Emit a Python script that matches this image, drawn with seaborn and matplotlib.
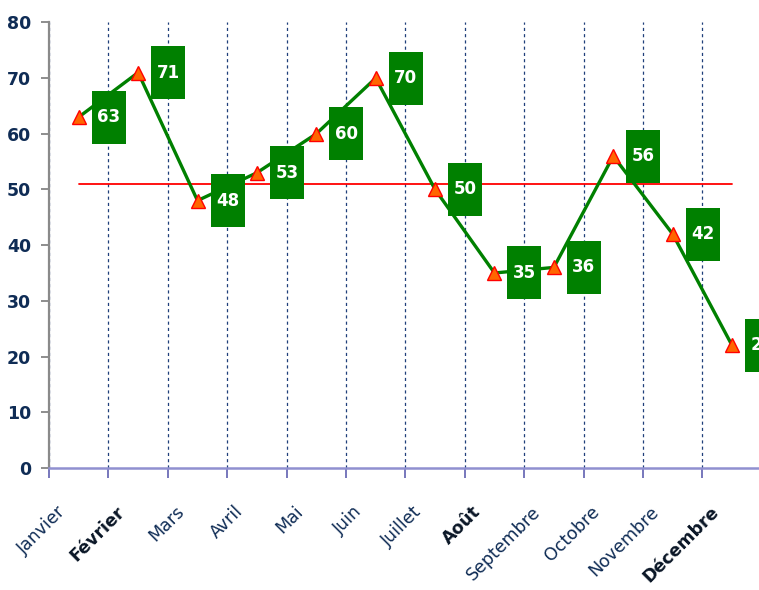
import numpy as np
import pandas as pd
import matplotlib
matplotlib.use("Agg")
import matplotlib.pyplot as plt
import seaborn as sns
from matplotlib.path import Path
from matplotlib.ticker import FixedLocator

# données
mois = ["Janvier", "Février", "Mars", "Avril", "Mai", "Juin", "Juillet",
        "Août", "Septembre", "Octobre", "Novembre", "Décembre"]
valeurs = [63, 71, 48, 53, 60, 70, 50, 35, 36, 56, 42, 22]
moyenne = 51
y_ticks = [0, 10, 20, 30, 40, 50, 60, 70, 80]

VERT = "#008000"
NAVY = "#0f2c55"

sns.set_style("white")
plt.rcParams["font.family"] = ["DejaVu Sans"]

df = pd.DataFrame({"mois": mois, "valeur": valeurs, "moyenne": [moyenne] * len(mois)})


def boite(x0, y0, width, height, mutation_size):
    """Etiquette verte de taille fixe (en pixels), centrée sur le texte."""
    cx = x0 + width / 2
    cy = y0 + height / 2
    w, h = 34, 53
    verts = [(cx - w / 2, cy - h / 2), (cx + w / 2, cy - h / 2),
             (cx + w / 2, cy + h / 2), (cx - w / 2, cy + h / 2),
             (cx - w / 2, cy - h / 2)]
    return Path(verts, closed=True)


fig = plt.figure(figsize=(7.59, 5.90), dpi=100)
ax = fig.add_axes([0.0646, 0.207, 0.939, 0.755])

sns.lineplot(data=df, x="mois", y="moyenne", color="#ff0000", linewidth=1.3,
             ax=ax, zorder=2, sort=False)
sns.lineplot(data=df, x="mois", y="valeur", color=VERT, linewidth=2.4,
             marker="^", markersize=10, markerfacecolor="#ff6600",
             markeredgecolor="#ff0000", markeredgewidth=1.0,
             ax=ax, zorder=3, sort=False)

for i, v in enumerate(valeurs):
    ax.annotate(str(v), xy=(i, v), xytext=(30, 0), textcoords="offset pixels",
                ha="center", va="center", color="white", fontsize=12,
                fontweight="bold", zorder=5, annotation_clip=False,
                bbox=dict(boxstyle=boite, facecolor=VERT, edgecolor="none"))

ax.set_xlim(-0.5, len(mois) - 0.5)
ax.set_ylim(0, 80)
ax.set_xlabel("")
ax.set_ylabel("")

# limites des catégories : graduations et quadrillage pointillé
limites = [i - 0.5 for i in range(len(mois))]
ax.xaxis.set_minor_locator(FixedLocator(limites))
ax.grid(False)
ax.grid(True, axis="x", which="minor", color="#1f3f7a", linestyle=(0, (2.5, 2.5)),
        linewidth=0.9)
ax.tick_params(axis="x", which="minor", length=7, width=1.2, color="#6060b0",
               direction="out", bottom=True)

# étiquettes des mois décalées comme sur l'original
ax.set_xticks([i - 0.38 for i in range(len(mois))])
ax.set_xticklabels(mois, rotation=45, ha="right", rotation_mode="anchor",
                   fontsize=12.5, color=NAVY)
ax.tick_params(axis="x", which="major", length=0, pad=25)
for lab in ax.get_xticklabels():
    if lab.get_text() in ("Février", "Août", "Décembre"):
        lab.set_fontweight("bold")
        lab.set_color("#0a1626")

ax.set_yticks(y_ticks)
ax.set_yticklabels([str(t) for t in y_ticks], fontsize=12.5, fontweight="bold",
                   color=NAVY)
ax.tick_params(axis="y", length=6, width=1.2, color="#7a7a7a", pad=7, left=True)

for side in ("top", "right"):
    ax.spines[side].set_visible(False)
ax.spines["left"].set_color("#8a8a8a")
ax.spines["left"].set_linewidth(1.6)
ax.spines["bottom"].set_color("#9090d0")
ax.spines["bottom"].set_linewidth(1.8)

fig.savefig("out.png", dpi=100)
